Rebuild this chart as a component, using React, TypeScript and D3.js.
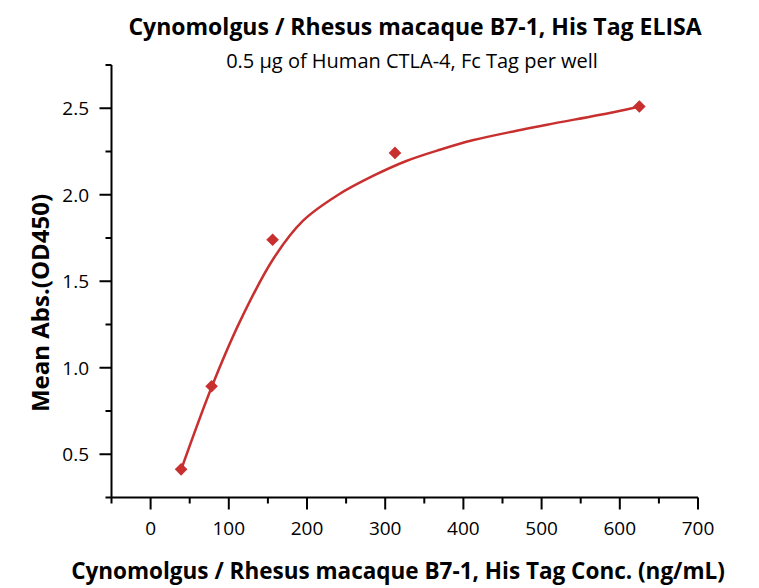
import { useEffect, useRef } from 'react';
import * as d3 from 'd3';

// measured points (ng/mL, OD450)
const concentrations = [39, 78, 156, 312.5, 625];
const absorbance = [0.413, 0.893, 1.74, 2.242, 2.51];

// fitted curve
const curveX = [39, 78.5, 114, 157, 195, 240, 285, 327, 370, 413, 468, 507, 592, 625];
const curveY = [0.41, 0.893, 1.265, 1.63, 1.85, 2.0, 2.11, 2.195, 2.26, 2.316, 2.37, 2.405, 2.477, 2.51];

const xMajorTicks = [0, 100, 200, 300, 400, 500, 600, 700];
const xMinorTicks = [-50, 50, 150, 250, 350, 450, 550, 650];
const yMajorTicks = [0.5, 1.0, 1.5, 2.0, 2.5];
const yMinorTicks = [0.25, 0.75, 1.25, 1.75, 2.25, 2.75];

const title = 'Cynomolgus / Rhesus macaque B7-1, His Tag ELISA';
const subtitle = '0.5 µg of Human CTLA-4, Fc Tag per well';
const xTitle = 'Cynomolgus / Rhesus macaque B7-1, His Tag Conc. (ng/mL)';
const yTitle = 'Mean Abs.(OD450)';

export default function App() {
  const ref = useRef<SVGSVGElement>(null);

  useEffect(() => {
    const svg = d3.select(ref.current);
    svg.selectAll('*').remove();

    const font = "'Open Sans', sans-serif";
    const red = '#c8302f';

    const x = d3.scaleLinear().domain([-50, 700]).range([111.5, 698]);
    const y = d3.scaleLinear().domain([0.25, 2.75]).range([497.5, 65]);

    // titles
    svg.append('text')
      .attr('x', 415).attr('y', 35)
      .attr('text-anchor', 'middle')
      .attr('font-family', font).attr('font-weight', 'bold').attr('font-size', 23)
      .text(title);

    svg.append('text')
      .attr('x', 412).attr('y', 68)
      .attr('text-anchor', 'middle')
      .attr('font-family', font).attr('font-size', 20)
      .text(subtitle);

    // x axis
    const xAxis = svg.append('g');
    xAxis.append('line')
      .attr('x1', x(-50)).attr('x2', x(700))
      .attr('y1', y(0.25)).attr('y2', y(0.25))
      .attr('stroke', '#000').attr('stroke-width', 2);
    xAxis.selectAll('.xmaj').data(xMajorTicks).enter().append('line')
      .attr('x1', d => x(d)).attr('x2', d => x(d))
      .attr('y1', y(0.25)).attr('y2', y(0.25) + 12)
      .attr('stroke', '#000').attr('stroke-width', 2);
    xAxis.selectAll('.xmin').data(xMinorTicks).enter().append('line')
      .attr('x1', d => x(d)).attr('x2', d => x(d))
      .attr('y1', y(0.25)).attr('y2', y(0.25) + 6)
      .attr('stroke', '#000').attr('stroke-width', 2);
    xAxis.selectAll('text').data(xMajorTicks).enter().append('text')
      .attr('x', d => x(d)).attr('y', 535)
      .attr('text-anchor', 'middle')
      .attr('font-family', font).attr('font-size', 19)
      .text(d => d);

    // y axis
    const yAxis = svg.append('g');
    yAxis.append('line')
      .attr('x1', x(-50)).attr('x2', x(-50))
      .attr('y1', y(0.25)).attr('y2', y(2.75))
      .attr('stroke', '#000').attr('stroke-width', 2);
    yAxis.selectAll('.ymaj').data(yMajorTicks).enter().append('line')
      .attr('x1', x(-50) - 12).attr('x2', x(-50))
      .attr('y1', d => y(d)).attr('y2', d => y(d))
      .attr('stroke', '#000').attr('stroke-width', 2);
    yAxis.selectAll('.ymin').data(yMinorTicks).enter().append('line')
      .attr('x1', x(-50) - 6).attr('x2', x(-50))
      .attr('y1', d => y(d)).attr('y2', d => y(d))
      .attr('stroke', '#000').attr('stroke-width', 2);
    yAxis.selectAll('text').data(yMajorTicks).enter().append('text')
      .attr('x', 89).attr('y', d => y(d) + 7)
      .attr('text-anchor', 'end')
      .attr('font-family', font).attr('font-size', 19)
      .text(d => d.toFixed(1));

    // axis titles
    svg.append('text')
      .attr('x', 398).attr('y', 579)
      .attr('text-anchor', 'middle')
      .attr('font-family', font).attr('font-weight', 'bold').attr('font-size', 22.5)
      .text(xTitle);

    svg.append('text')
      .attr('transform', 'translate(49,303) rotate(-90)')
      .attr('text-anchor', 'middle')
      .attr('font-family', font).attr('font-weight', 'bold').attr('font-size', 24)
      .text(yTitle);

    // fitted curve
    const line = d3.line<number>()
      .x((d, i) => x(curveX[i]))
      .y(d => y(d))
      .curve(d3.curveCatmullRom.alpha(0.5));
    svg.append('path')
      .datum(curveY)
      .attr('fill', 'none')
      .attr('stroke', red)
      .attr('stroke-width', 2.5)
      .attr('d', line);

    // diamonds
    svg.selectAll('.pt').data(absorbance).enter().append('path')
      .attr('transform', (d, i) => `translate(${x(concentrations[i])},${y(d)}) rotate(45)`)
      .attr('d', d3.symbol(d3.symbolSquare, 80)())
      .attr('fill', red);
  }, []);

  return (
    <svg ref={ref} width={759} height={588}
      style={{ position: 'absolute', left: 0, top: 0, background: '#fff' }} />
  );
}
